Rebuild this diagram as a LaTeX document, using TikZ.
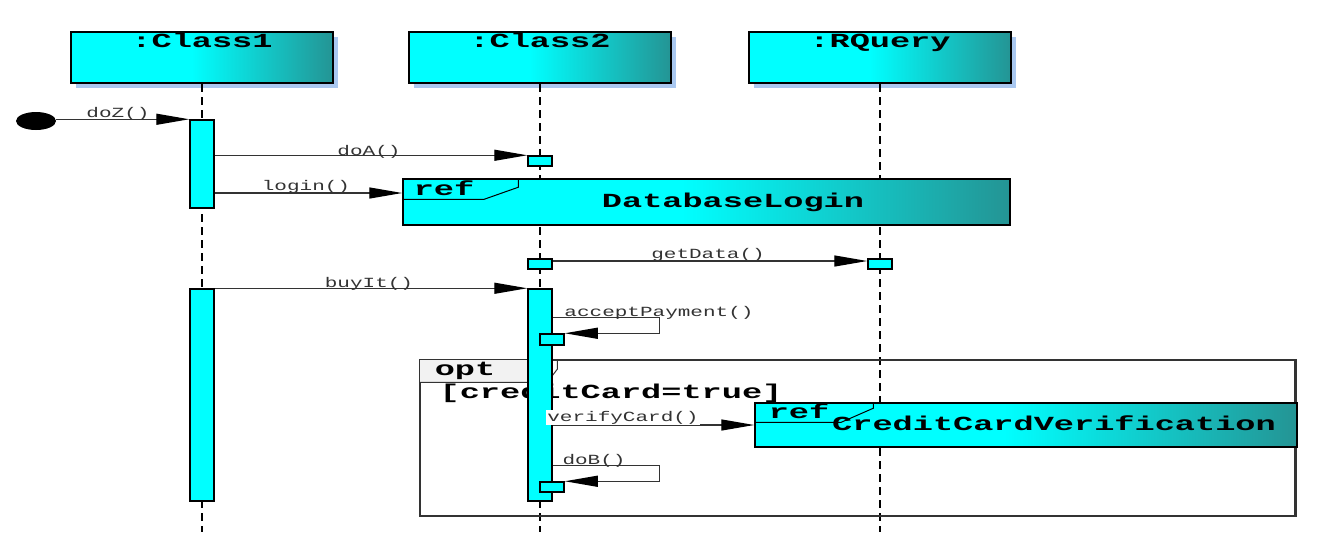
\documentclass[tikz,border=0pt]{standalone}
\usepackage{fontspec}
\usetikzlibrary{arrows.meta,shapes.geometric,shadows}
\newfontfamily\umlbig[FakeStretch=1.68]{Liberation Mono}
\newfontfamily\umlsmall[FakeStretch=1.5]{Liberation Mono}
\definecolor{umlcyan}{RGB}{0,255,255}
\definecolor{umlteal}{RGB}{36,148,148}
\definecolor{shadowblue}{RGB}{170,200,240}
\definecolor{optgray}{RGB}{242,242,242}
\pgfdeclarehorizontalshading{umlgrad}{100bp}{color(0bp)=(umlcyan); color(48bp)=(umlcyan); color(75bp)=(umlteal); color(100bp)=(umlteal)}
\tikzset{
  clsbox/.style={draw=black, line width=2pt, shade, shading=umlgrad, minimum width=262pt, minimum height=51pt, inner sep=0pt,
    drop shadow={shadow xshift=5pt, shadow yshift=-5pt, fill=shadowblue, opacity=1}},
  refbox/.style={draw=black, line width=1.5pt, shade, shading=umlgrad, inner sep=0pt},
  tagline/.style={draw=black, line width=1pt},
  life/.style={draw=black, line width=2.2pt, dash pattern=on 8pt off 5pt},
  act/.style={draw=black, line width=1.5pt, fill=umlcyan, inner sep=0pt, minimum width=24pt},
  msg/.style={draw=black!80, line width=1.3pt, -{Triangle[length=33pt,width=11pt,color=black,fill=black]}},
  msglbl/.style={font=\umlsmall\fontsize{14}{16}\selectfont, text=black!80, inner sep=0pt, anchor=base},
  bigtxt/.style={font=\umlbig\bfseries\fontsize{20}{24}\selectfont, inner sep=0pt, anchor=base},
  framebox/.style={draw=black!80, line width=1.5pt, inner sep=0pt}
}
\begin{document}
\begin{tikzpicture}[x=1pt,y=-1pt]
\useasboundingbox (0,0) rectangle (1324,547);

% lifeline heads
\node[clsbox] (c1) at (202,57.5) {};
\node[clsbox] (c2) at (540,57.5) {};
\node[clsbox] (c3) at (880,57.5) {};
\node[bigtxt] (t1) at ([yshift=-16pt]c1.north) {:Class1};
\node[bigtxt] (t2) at ([yshift=-16pt]c2.north) {:Class2};
\node[bigtxt] (t3) at ([yshift=-16pt]c3.north) {:RQuery};

% lifelines
\coordinate (bot) at (0,532);
\draw[life] (c1.south) -- (c1.south |- bot);
\draw[life] (c2.south) -- (c2.south |- bot);
\draw[life] (c3.south) -- (c3.south |- bot);

% opt frame
\node[framebox, minimum width=875pt, minimum height=156pt] (opt) at (857.5,438) {};
\fill[optgray] ([shift={(1pt,-1pt)}]opt.north west) rectangle ++(128,22);
\draw[tagline, draw=black!80] (opt.north west) ++(0,23) -- ++(128,0) -- ++(10,-13) -- ++(0,-10);
\draw[line width=3pt, black!80] (opt.north east) -- (opt.south east);
\node[bigtxt] (optlbl) at (465,375) {opt};
\node[bigtxt] (guard) at (611,398) {[creditCard=true]};

% ref DatabaseLogin
\node[refbox, minimum width=607pt, minimum height=46pt] (db) at (706.5,202) {};
\draw[tagline] (db.north west) ++(116,0) -- ++(0,9) -- ++(-34,12) -- ++(-82,0);
\node[bigtxt] (dbref) at (444,195) {ref};
\node[bigtxt] (dbname) at (733,207) {DatabaseLogin};

% ref CreditCardVerification
\node[refbox, minimum width=542pt, minimum height=44pt] (cc) at (1026,425) {};
\draw[tagline] (cc.north west) ++(119,0) -- ++(0,6) -- ++(-32,14) -- ++(-87,0);
\node[bigtxt] (ccref) at (799,418) {ref};
\node[bigtxt] (ccname) at (1054,430) {CreditCardVerification};

% activations
\node[act, minimum height=88pt] (a1) at (202,164) {};
\node[act, minimum height=212pt] (a2) at (202,395) {};
\node[act, minimum height=10pt] (b1) at (540,161) {};
\node[act, minimum height=10pt] (b2) at (540,264) {};
\node[act, minimum height=212pt] (b3) at (540,395) {};
\node[act, minimum height=11pt] (b4) at (552,339.5) {};
\node[act, minimum height=10pt] (b5) at (552,487) {};
\node[act, minimum height=10pt] (r1) at (880,264) {};

% start
\node[ellipse, fill=black, minimum width=40pt, minimum height=18pt, inner sep=0pt] (start) at (36,121) {};

% messages
\draw[msg] (start.east |- a1.north) -- (a1.north west);
\node[msglbl] (lz) at (118,117) {doZ()};

\draw[msg] (a1.east |- b1.north) -- (b1.north west);
\node[msglbl] (la) at (369,155) {doA()};

\coordinate (lgn) at ([yshift=9pt]db.west);
\draw[msg] (a1.east |- lgn) -- (lgn);
\node[msglbl] (ll) at (306,190) {login()};

\draw[msg] ([yshift=3pt]b2.east) -- ([yshift=3pt]r1.west);
\node[msglbl] (lg) at (708,258) {getData()};

\draw[msg] (a2.north east) -- (b3.north west);
\node[msglbl] (lb) at (369,287) {buyIt()};

\coordinate (apo) at ([yshift=-29pt]b3.north east);
\draw[msg] (apo) -- ++(107,0) |- (b4.north east);
\node[msglbl] (lp) at (659,316) {acceptPayment()};

\draw[msg] (b3.east |- cc.west) -- (cc.west);
\node[msglbl, fill=white, inner sep=1pt] (lv) at (623,421) {verifyCard()};

\coordinate (dbo) at ([yshift=-177pt]b3.north east);
\draw[msg] (dbo) -- ++(107,0) |- (b5.north east);
\node[msglbl] (ldb) at (594,464) {doB()};
\end{tikzpicture}
\end{document}
